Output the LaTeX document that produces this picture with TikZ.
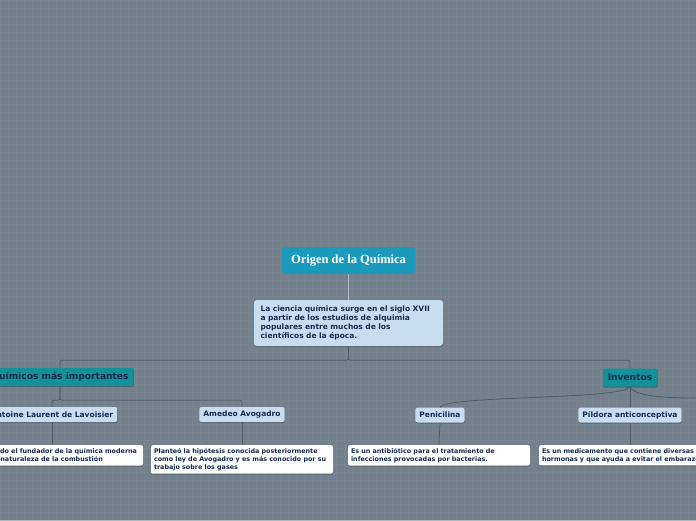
\documentclass[tikz,border=0pt]{standalone}
\usepackage{fontspec}
\setmainfont{DejaVu Sans}
\newfontfamily\titlefont{Liberation Serif}
\usetikzlibrary{shadows}
\definecolor{bgc}{HTML}{74808B}
\definecolor{gridc}{HTML}{7C8893}
\definecolor{titlec}{HTML}{1A9BBB}
\definecolor{catc}{HTML}{12919B}
\definecolor{lightc}{HTML}{C6DEF0}
\definecolor{navyc}{HTML}{1A2A4E}
\definecolor{linec}{HTML}{535C65}
\definecolor{lightline}{HTML}{B3BAC1}
\tikzset{
  shad/.style={drop shadow={shadow xshift=0.4pt, shadow yshift=-1pt, fill=black, opacity=0.25}},
  titlebox/.style={fill=titlec, rounded corners=3pt, text=white, font=\titlefont\bfseries\fontsize{12.5}{14}\selectfont, minimum width=133pt, minimum height=27pt, inner xsep=6pt},
  descmain/.style={shad, fill=lightc, rounded corners=3pt, text=navyc, font=\bfseries\fontsize{7.5}{9}\selectfont, align=left, text width=176pt, inner xsep=6.5pt, inner ysep=4pt, minimum height=46pt},
  catbox/.style={shad, fill=catc, text=navyc, font=\bfseries\fontsize{9.1}{10}\selectfont, minimum height=18pt, inner xsep=5pt, inner ysep=2pt, rounded corners=1pt},
  childbox/.style={shad, fill=lightc, rounded corners=2pt, text=navyc, font=\bfseries\fontsize{7.5}{8}\selectfont, minimum height=15pt, inner xsep=4pt, inner ysep=2pt},
  leafbox/.style={shad, fill=white, rounded corners=2pt, text=navyc, text width=176pt, inner xsep=3pt, inner ysep=3pt, align=left, font=\bfseries\fontsize{6.4}{8}\selectfont, anchor=north},
  conn/.style={draw=linec, line width=0.8pt, rounded corners=2pt},
  tconn/.style={draw=lightline, line width=1pt}
}
\begin{document}
\begin{tikzpicture}[x=1pt,y=-1pt]
\useasboundingbox (0,0) rectangle (696,520);
\clip (0,0) rectangle (696,520);
\fill[bgc] (0,0) rectangle (696,520);
\draw[gridc, line width=0.5pt, opacity=0.6] (0,0) grid[step=8pt] (696,520);

\node[titlebox] (title) at (348.5,260.5) {Origen de la Química};
\node[descmain] (d0) at (348.5,323) {La ciencia química surge en el siglo XVII\\a partir de los estudios de alquimia\\populares entre muchos de los\\científicos de la época.};

\node[catbox] (quim) at (60,377) {Químicos más importantes};
\node[catbox] (inv) at (630,377.5) {Inventos};

\node[childbox] (lav) at (52,414.5) {Antoine Laurent de Lavoisier};
\node[childbox] (avo) at (242,414.5) {Amedeo Avogadro};
\node[childbox] (pen) at (440,415) {Penicilina};
\node[childbox] (pil) at (630,415) {Píldora anticonceptiva};

\node[leafbox] (ld) at (52,445) {\mbox{Considerado el fundador de la química moderna}\\Explicó la naturaleza de la combustión};
\node[leafbox] (ad) at (242,445) {Planteó la hipótesis conocida posteriormente\\\mbox{como ley de Avogadro y es más conocido por su}\\trabajo sobre los gases};
\node[leafbox] (pd) at (439,445) {Es un antibiótico para el tratamiento de\\infecciones provocadas por bacterias.};
\node[leafbox] (pld) at (630,445) {Es un medicamento que contiene diversas\\hormonas y que ayuda a evitar el embarazo};

\coordinate (offr) at (730,398);

\draw[tconn] (title.south) -- (d0.north);
\draw[conn] (d0.south) -- ++(0,14) -| (quim.north);
\draw[conn] (d0.south) -- ++(0,14) -| (inv.north);
\draw[conn] (quim.south) -- ++(0,14) -| (lav.north);
\draw[conn] (quim.south) -- ++(0,14) -| (avo.north);
\draw[conn] (lav.south) -- (ld.north);
\draw[conn] (avo.south) -- (ad.north);
\draw[conn] (inv.south) .. controls +(-5,13) and +(5,-12) .. (pen.north);
\draw[conn] (inv.south) .. controls +(5,13) and +(-40,0) .. (offr);
\draw[conn] (inv.south) -- (pil.north);
\draw[conn] (pen.south) -- (pd.north);
\draw[conn] (pil.south) -- (pld.north);
\end{tikzpicture}
\end{document}
